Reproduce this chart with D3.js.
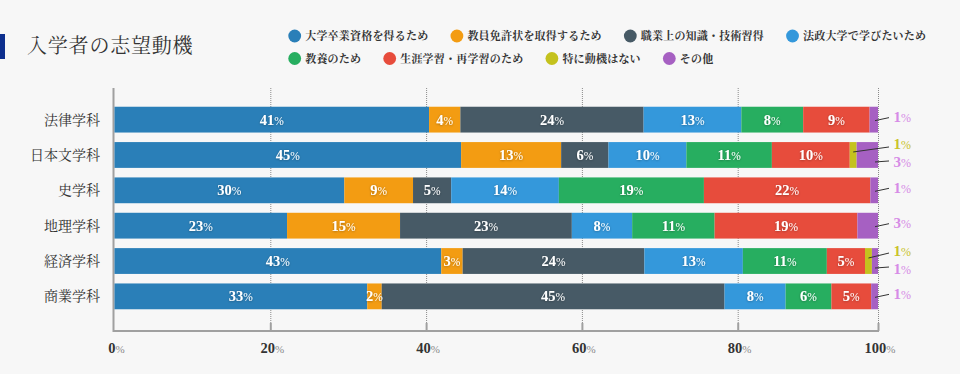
<!DOCTYPE html>
<html lang="ja">
<head>
<meta charset="utf-8">
<script src="https://cdn.jsdelivr.net/npm/d3@7"></script>
<style>
  html, body { margin: 0; padding: 0; background: #f7f7f7; }
  svg { display: block; }
  .jp { font-family: "Noto Serif CJK JP", "Noto Sans CJK JP", serif; }
  .num { font-family: "Liberation Serif", "DejaVu Serif", serif; }
</style>
</head>
<body>
<div id="chart"></div>
<script>
// 学科
const categories = ["法律学科", "日本文学科", "史学科", "地理学科", "経済学科", "商業学科"];

// 系列名と色
const seriesNames = [
  "大学卒業資格を得るため", "教員免許状を取得するため", "職業上の知識・技術習得", "法政大学で学びたいため",
  "教養のため", "生涯学習・再学習のため", "特に動機はない", "その他"
];
const seriesColors = ["#2a7fb8", "#f39c12", "#475a66", "#3498db", "#27ae60", "#e74c3c", "#c4c21e", "#a660c2"];
const outsideColors = { 6: "#c9c32a", 7: "#d68be6" };

// 各系列の値 (%)
const degree         = [41.2, 45.4, 30.1, 22.6, 42.8, 33.1];
const teacherLicense = [4.1, 13.1, 9.0, 14.8, 2.8, 1.9];
const careerSkills   = [24.0, 6.2, 5.0, 22.5, 23.8, 44.9];
const hoseiWish      = [12.8, 10.2, 14.1, 7.9, 12.9, 8.0];
const culture        = [8.1, 11.2, 19.0, 10.8, 11.0, 6.0];
const lifelong       = [8.7, 10.2, 21.8, 18.7, 5.0, 5.2];
const noReason       = [0, 0.9, 0, 0, 0.9, 0];
const other          = [1.1, 2.8, 1.0, 2.7, 0.8, 0.9];

// 目盛り
const tickValues = [0, 20, 40, 60, 80, 100];

const seriesValues = [degree, teacherLicense, careerSkills, hoseiWish, culture, lifelong, noReason, other];

const margin = { top: 88, right: 82, bottom: 43, left: 114.5 },
      width = 960 - margin.left - margin.right,
      height = 374 - margin.top - margin.bottom;

const root = d3.select("#chart")
  .append("svg")
  .attr("width", 960)
  .attr("height", 374);

root.append("rect").attr("width", 960).attr("height", 374).attr("fill", "#f7f7f7");

// 影
const defs = root.append("defs");
defs.append("filter").attr("id", "shadow")
  .attr("x", "-20%").attr("y", "-20%").attr("width", "140%").attr("height", "140%")
  .append("feDropShadow")
  .attr("dx", 0).attr("dy", 0.5).attr("stdDeviation", 0.8)
  .attr("flood-color", "#000").attr("flood-opacity", 0.35);

// タイトル
root.append("rect").attr("x", 0).attr("y", 34).attr("width", 5).attr("height", 25).attr("fill", "#0d2f8e");
root.append("text")
  .attr("class", "jp")
  .attr("x", 27).attr("y", 53)
  .attr("font-size", "20px")
  .attr("letter-spacing", "0.8px")
  .attr("fill", "#333")
  .text("入学者の志望動機");

// 凡例 (2段)
const legendRows = [[0, 1, 2, 3], [4, 5, 6, 7]];
const legend = root.append("g");
legendRows.forEach((row, ri) => {
  let cx = 294.7;
  const cy = 36 + ri * 22.5;
  row.forEach(i => {
    legend.append("circle").attr("cx", cx).attr("cy", cy).attr("r", 6.4).attr("fill", seriesColors[i]);
    const t = legend.append("text")
      .attr("class", "jp")
      .attr("x", cx + 10.5).attr("y", cy + 4)
      .attr("font-size", "11px")
      .attr("font-weight", 700)
      .attr("letter-spacing", "0.2px")
      .attr("fill", "#333")
      .text(seriesNames[i]);
    cx += 10.5 + t.node().getComputedTextLength() + 28.5;
  });
});

const svg = root.append("g")
  .attr("transform", `translate(${margin.left},${margin.top})`);

// スケール
const x = d3.scaleLinear().domain([0, 100]).range([0, width]);
// 目盛りは 0〜80 が等間隔、100 は右端
const xTick = d3.scaleLinear().domain([0, 80, 100]).range([0, 623.2, width]);

const y = d3.scaleBand()
  .domain(categories)
  .range([0, 240])
  .paddingInner(0.27)
  .paddingOuter(0.53);

// データ整形
const rows = categories.map((c, ci) => {
  const r = { category: c };
  seriesNames.forEach((s, si) => r[s] = seriesValues[si][ci]);
  return r;
});
const stacked = d3.stack().keys(seriesNames)(rows);

// グリッド (点線)
svg.selectAll(".grid")
  .data(tickValues.slice(1))
  .enter()
  .append("line")
  .attr("x1", d => xTick(d) + 0.5)
  .attr("x2", d => xTick(d) + 0.5)
  .attr("y1", 0)
  .attr("y2", height - 8)
  .attr("stroke", "#8a8a8a")
  .attr("stroke-width", 1)
  .attr("stroke-dasharray", "1,1");

// 目盛り線
svg.selectAll(".tick-mark")
  .data(tickValues.slice(1))
  .enter()
  .append("line")
  .attr("x1", d => xTick(d) + 0.5)
  .attr("x2", d => xTick(d) + 0.5)
  .attr("y1", height - 8)
  .attr("y2", height)
  .attr("stroke", "#a0a0a0")
  .attr("stroke-width", 2);

// 軸線
svg.append("path")
  .attr("d", `M-1,0V${height}H${width + 1}`)
  .attr("fill", "none")
  .attr("stroke", "#a0a0a0")
  .attr("stroke-width", 2);

// バー
const layer = svg.selectAll(".layer")
  .data(stacked)
  .enter()
  .append("g")
  .attr("fill", (d, i) => seriesColors[i]);

layer.selectAll("rect")
  .data(d => d)
  .enter()
  .append("rect")
  .attr("x", d => x(d[0]))
  .attr("y", d => y(d.data.category))
  .attr("width", d => x(d[1]) - x(d[0]))
  .attr("height", y.bandwidth());

// バー内ラベル
stacked.slice(0, 6).forEach(s => {
  s.forEach(d => {
    const v = d[1] - d[0];
    const t = svg.append("text")
      .attr("class", "num")
      .attr("x", x((d[0] + d[1]) / 2))
      .attr("y", y(d.data.category) + y.bandwidth() / 2 + 5)
      .attr("text-anchor", "middle")
      .attr("fill", "#fff")
      .attr("filter", "url(#shadow)");
    t.append("tspan").attr("font-size", "14.5px").attr("font-weight", "bold").text(Math.round(v));
    t.append("tspan").attr("font-size", "11.5px").text("%");
  });
});

// 外側ラベル (特に動機はない・その他)
const labelX = width + 15.5;
categories.forEach((c, ci) => {
  const cy = y(c) + y.bandwidth() / 2;
  const yel = stacked[6][ci], pur = stacked[7][ci];
  const hasYel = yel[1] - yel[0] > 0;
  const items = [];
  if (hasYel) {
    items.push({ s: 6, d: yel, ly: cy - 11, x1: x((yel[0] + yel[1]) / 2), y1: cy - 3, y2: cy - 8 });
    items.push({ s: 7, d: pur, ly: cy + 7, x1: x(100) - 3, y1: cy + 7, y2: cy + 6 });
  } else {
    items.push({ s: 7, d: pur, ly: cy - 3, x1: x(100) - 3, y1: cy + 1, y2: cy - 2 });
  }
  items.forEach(it => {
    svg.append("line")
      .attr("x1", it.x1).attr("y1", it.y1)
      .attr("x2", width + 11).attr("y2", it.y2)
      .attr("stroke", "#333").attr("stroke-width", 1);
    const t = svg.append("text")
      .attr("class", "num")
      .attr("x", labelX)
      .attr("y", it.ly + 5.5)
      .attr("fill", outsideColors[it.s]);
    t.append("tspan").attr("font-size", "15px").attr("font-weight", "bold").text(Math.round(it.d[1] - it.d[0]));
    t.append("tspan").attr("font-size", "12px").text("%");
  });
});

// Y軸ラベル
svg.selectAll(".cat")
  .data(categories)
  .enter()
  .append("text")
  .attr("class", "jp")
  .attr("x", -14.5)
  .attr("y", d => y(d) + y.bandwidth() / 2 + 5)
  .attr("text-anchor", "end")
  .attr("font-size", "14px")
  .attr("fill", "#333")
  .text(d => d);

// X軸ラベル
const xl = svg.selectAll(".xl")
  .data(tickValues)
  .enter()
  .append("text")
  .attr("class", "num")
  .attr("x", d => xTick(d) + 2)
  .attr("y", height + 22)
  .attr("text-anchor", "middle");
xl.append("tspan").attr("font-size", "14.5px").attr("font-weight", "bold").attr("fill", "#333").text(d => d);
xl.append("tspan").attr("font-size", "11px").attr("fill", "#888").text("%");
</script>
</body>
</html>
